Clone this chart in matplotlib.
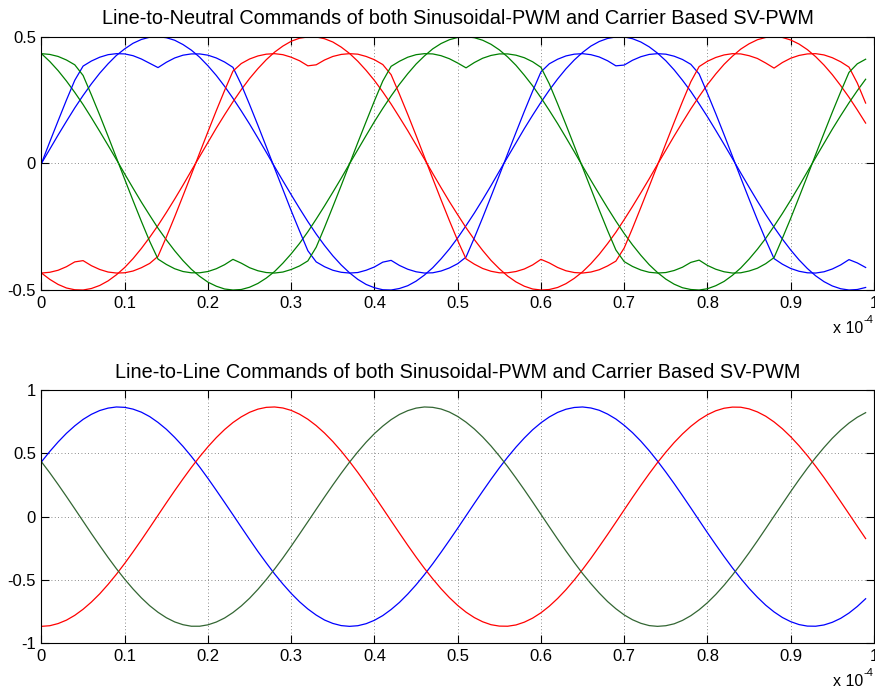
import matplotlib
matplotlib.use("Agg")
import matplotlib.pyplot as plt

plt.rcParams['font.family'] = ['Liberation Sans', 'DejaVu Sans']

# one sample per microsecond, 0..99 us
t_us = list(range(100))

# sinusoidal PWM line-to-neutral commands
va_spwm = [0.000, 0.056, 0.112, 0.166, 0.219, 0.268, 0.314, 0.356, 0.393, 0.426,
           0.452, 0.474, 0.489, 0.498, 0.500, 0.496, 0.486, 0.469, 0.447, 0.419,
           0.385, 0.347, 0.304, 0.257, 0.207, 0.155, 0.100, 0.044, -0.013, -0.069,
           -0.124, -0.178, -0.230, -0.279, -0.324, -0.365, -0.401, -0.432, -0.458, -0.478,
           -0.491, -0.499, -0.500, -0.494, -0.483, -0.465, -0.441, -0.412, -0.377, -0.338,
           -0.294, -0.246, -0.196, -0.143, -0.088, -0.031, 0.025, 0.081, 0.137, 0.190,
           0.241, 0.289, 0.333, 0.373, 0.408, 0.438, 0.463, 0.481, 0.493, 0.499,
           0.499, 0.492, 0.479, 0.460, 0.435, 0.405, 0.369, 0.328, 0.284, 0.235,
           0.184, 0.130, 0.075, 0.019, -0.038, -0.094, -0.149, -0.202, -0.252, -0.299,
           -0.342, -0.381, -0.415, -0.444, -0.467, -0.484, -0.495, -0.500, -0.498, -0.490]
vb_spwm = [-0.433, -0.458, -0.478, -0.492, -0.499, -0.500, -0.494, -0.482, -0.464, -0.440,
           -0.411, -0.376, -0.336, -0.292, -0.245, -0.194, -0.141, -0.086, -0.029, 0.027,
           0.083, 0.139, 0.192, 0.243, 0.291, 0.335, 0.374, 0.409, 0.439, 0.463,
           0.482, 0.494, 0.499, 0.499, 0.492, 0.479, 0.459, 0.434, 0.403, 0.367,
           0.327, 0.282, 0.234, 0.182, 0.129, 0.073, 0.017, -0.040, -0.096, -0.151,
           -0.203, -0.254, -0.301, -0.344, -0.383, -0.416, -0.445, -0.468, -0.485, -0.496,
           -0.500, -0.498, -0.490, -0.475, -0.454, -0.428, -0.396, -0.359, -0.317, -0.272,
           -0.222, -0.170, -0.116, -0.061, -0.004, 0.052, 0.108, 0.162, 0.215, 0.264,
           0.311, 0.353, 0.391, 0.423, 0.451, 0.472, 0.488, 0.497, 0.500, 0.497,
           0.487, 0.471, 0.449, 0.421, 0.388, 0.350, 0.307, 0.261, 0.211, 0.159]
vc_spwm = [0.433, 0.402, 0.366, 0.325, 0.280, 0.232, 0.180, 0.126, 0.071, 0.015,
           -0.042, -0.098, -0.153, -0.205, -0.256, -0.302, -0.345, -0.384, -0.418, -0.446,
           -0.469, -0.485, -0.496, -0.500, -0.498, -0.489, -0.474, -0.453, -0.427, -0.394,
           -0.357, -0.316, -0.270, -0.220, -0.168, -0.114, -0.059, -0.002, 0.054, 0.110,
           0.165, 0.217, 0.266, 0.312, 0.354, 0.392, 0.424, 0.452, 0.473, 0.488,
           0.497, 0.500, 0.496, 0.486, 0.470, 0.448, 0.420, 0.387, 0.348, 0.306,
           0.259, 0.209, 0.157, 0.102, 0.046, -0.011, -0.067, -0.122, -0.176, -0.228,
           -0.277, -0.322, -0.363, -0.400, -0.431, -0.457, -0.477, -0.491, -0.498, -0.500,
           -0.495, -0.483, -0.466, -0.442, -0.413, -0.378, -0.339, -0.296, -0.248, -0.198,
           -0.145, -0.090, -0.033, 0.023, 0.079, 0.135, 0.188, 0.239, 0.287, 0.332]

# carrier based SV-PWM line-to-neutral commands
va_svpwm = [0.000, 0.085, 0.168, 0.250, 0.328, 0.384, 0.404, 0.419, 0.429, 0.433,
            0.432, 0.425, 0.412, 0.395, 0.378, 0.399, 0.416, 0.427, 0.432, 0.432,
            0.427, 0.416, 0.400, 0.379, 0.311, 0.232, 0.150, 0.066, -0.019, -0.103,
            -0.187, -0.267, -0.345, -0.389, -0.408, -0.422, -0.430, -0.433, -0.431, -0.422,
            -0.409, -0.390, -0.383, -0.403, -0.418, -0.428, -0.433, -0.432, -0.425, -0.413,
            -0.396, -0.370, -0.294, -0.214, -0.131, -0.047, 0.038, 0.122, 0.205, 0.285,
            0.361, 0.393, 0.411, 0.424, 0.431, 0.433, 0.429, 0.420, 0.405, 0.385,
            0.388, 0.407, 0.421, 0.430, 0.433, 0.431, 0.423, 0.410, 0.391, 0.353,
            0.276, 0.196, 0.113, 0.028, -0.057, -0.141, -0.223, -0.302, -0.376, -0.398,
            -0.415, -0.426, -0.432, -0.433, -0.428, -0.417, -0.401, -0.380, -0.393, -0.411]
vb_svpwm = [-0.433, -0.430, -0.422, -0.408, -0.389, -0.384, -0.404, -0.419, -0.429, -0.433,
            -0.432, -0.425, -0.412, -0.395, -0.367, -0.291, -0.211, -0.128, -0.044, 0.041,
            0.125, 0.208, 0.288, 0.364, 0.394, 0.412, 0.424, 0.431, 0.433, 0.429,
            0.419, 0.405, 0.385, 0.389, 0.408, 0.422, 0.430, 0.433, 0.431, 0.422,
            0.409, 0.390, 0.350, 0.273, 0.193, 0.110, 0.025, -0.060, -0.144, -0.226,
            -0.305, -0.377, -0.398, -0.415, -0.426, -0.432, -0.432, -0.427, -0.417, -0.401,
            -0.379, -0.393, -0.411, -0.424, -0.431, -0.433, -0.429, -0.420, -0.405, -0.386,
            -0.334, -0.256, -0.174, -0.091, -0.007, 0.078, 0.162, 0.244, 0.322, 0.382,
            0.403, 0.418, 0.428, 0.433, 0.432, 0.425, 0.414, 0.396, 0.376, 0.398,
            0.415, 0.426, 0.432, 0.433, 0.428, 0.417, 0.401, 0.380, 0.317, 0.238]
vc_svpwm = [0.433, 0.430, 0.422, 0.408, 0.389, 0.347, 0.270, 0.190, 0.107, 0.022,
            -0.063, -0.147, -0.229, -0.308, -0.378, -0.399, -0.416, -0.427, -0.432, -0.432,
            -0.427, -0.416, -0.400, -0.379, -0.394, -0.412, -0.424, -0.431, -0.433, -0.429,
            -0.419, -0.405, -0.385, -0.331, -0.253, -0.171, -0.088, -0.003, 0.082, 0.165,
            0.247, 0.325, 0.383, 0.403, 0.419, 0.429, 0.433, 0.432, 0.425, 0.413,
            0.396, 0.377, 0.398, 0.415, 0.426, 0.432, 0.432, 0.427, 0.417, 0.401,
            0.379, 0.314, 0.235, 0.153, 0.069, -0.016, -0.100, -0.184, -0.265, -0.342,
            -0.388, -0.407, -0.421, -0.430, -0.433, -0.431, -0.423, -0.410, -0.391, -0.382,
            -0.403, -0.418, -0.428, -0.433, -0.432, -0.425, -0.414, -0.396, -0.372, -0.296,
            -0.217, -0.134, -0.050, 0.035, 0.119, 0.202, 0.282, 0.359, 0.393, 0.411]

# line-to-line commands
vab = [0.433, 0.515, 0.590, 0.658, 0.717, 0.768, 0.808, 0.838, 0.857, 0.866,
       0.863, 0.849, 0.825, 0.790, 0.744, 0.690, 0.626, 0.555, 0.476, 0.392,
       0.302, 0.208, 0.112, 0.015, -0.083, -0.180, -0.275, -0.365, -0.452, -0.532,
       -0.606, -0.672, -0.729, -0.777, -0.816, -0.843, -0.860, -0.866, -0.861, -0.845,
       -0.818, -0.781, -0.733, -0.677, -0.611, -0.538, -0.458, -0.372, -0.281, -0.187,
       -0.091, 0.007, 0.105, 0.201, 0.295, 0.385, 0.470, 0.549, 0.621, 0.686,
       0.741, 0.787, 0.823, 0.848, 0.862, 0.866, 0.858, 0.840, 0.810, 0.771,
       0.721, 0.663, 0.596, 0.521, 0.439, 0.352, 0.261, 0.166, 0.069, -0.029,
       -0.127, -0.222, -0.315, -0.404, -0.488, -0.566, -0.636, -0.699, -0.752, -0.796,
       -0.829, -0.852, -0.864, -0.865, -0.855, -0.834, -0.803, -0.761, -0.709, -0.648]
vbc = [-0.866, -0.861, -0.844, -0.817, -0.779, -0.731, -0.674, -0.609, -0.535, -0.455,
       -0.369, -0.278, -0.184, -0.087, 0.011, 0.109, 0.205, 0.298, 0.388, 0.473,
       0.552, 0.624, 0.688, 0.743, 0.788, 0.824, 0.849, 0.863, 0.866, 0.858,
       0.839, 0.809, 0.769, 0.719, 0.660, 0.593, 0.518, 0.436, 0.349, 0.257,
       0.162, 0.065, -0.033, -0.130, -0.226, -0.319, -0.408, -0.491, -0.569, -0.639,
       -0.701, -0.754, -0.797, -0.830, -0.853, -0.864, -0.865, -0.855, -0.833, -0.801,
       -0.759, -0.707, -0.646, -0.577, -0.500, -0.417, -0.329, -0.236, -0.141, -0.044,
       0.054, 0.152, 0.247, 0.339, 0.427, 0.509, 0.585, 0.653, 0.713, 0.764,
       0.805, 0.836, 0.856, 0.865, 0.864, 0.851, 0.827, 0.793, 0.748, 0.694,
       0.631, 0.560, 0.482, 0.398, 0.309, 0.215, 0.119, 0.022, -0.076, -0.173]
vca = [0.433, 0.346, 0.254, 0.159, 0.062, -0.036, -0.134, -0.229, -0.322, -0.411,
       -0.494, -0.571, -0.641, -0.703, -0.755, -0.798, -0.831, -0.853, -0.865, -0.865,
       -0.854, -0.832, -0.800, -0.757, -0.705, -0.644, -0.574, -0.497, -0.414, -0.326,
       -0.233, -0.137, -0.040, 0.058, 0.155, 0.250, 0.342, 0.430, 0.512, 0.588,
       0.656, 0.715, 0.766, 0.807, 0.837, 0.857, 0.866, 0.863, 0.850, 0.826,
       0.791, 0.746, 0.692, 0.629, 0.558, 0.479, 0.395, 0.305, 0.212, 0.116,
       0.018, -0.080, -0.177, -0.271, -0.362, -0.449, -0.529, -0.603, -0.670, -0.727,
       -0.776, -0.814, -0.842, -0.860, -0.866, -0.861, -0.846, -0.819, -0.782, -0.735,
       -0.679, -0.614, -0.541, -0.461, -0.375, -0.285, -0.191, -0.094, 0.004, 0.101,
       0.198, 0.292, 0.382, 0.467, 0.546, 0.619, 0.683, 0.739, 0.785, 0.821]

x_ticks = [0, 0.1, 0.2, 0.3, 0.4, 0.5, 0.6, 0.7, 0.8, 0.9, 1]
x_labels = ['0', '0.1', '0.2', '0.3', '0.4', '0.5', '0.6', '0.7', '0.8', '0.9', '1']

# time axis in units of 1e-4 s
x = [v / 100 for v in t_us]

BLUE = (0, 0, 1)
RED = (1, 0, 0)
GREEN = (0, 0.5, 0)
DKGREEN = (0.2, 0.4, 0.2)
LW = 0.9


def style(ax, yticks, ylabels, title):
    ax.set_xlim(0, 1)
    ax.set_xticks(x_ticks)
    ax.set_xticklabels(x_labels)
    ax.set_ylim(yticks[0], yticks[-1])
    ax.set_yticks(yticks)
    ax.set_yticklabels(ylabels)
    ax.tick_params(direction='in', top=True, right=True, length=6,
                   width=0.8, labelsize=12, pad=4)
    ax.grid(True, linestyle=(0, (1, 3)), color='0.4', linewidth=0.6)
    for sp in ax.spines.values():
        sp.set_linewidth(0.8)
    ax.set_title(title, fontsize=14.3, pad=9)
    # exponent label for the time axis
    ax.text(0.987, -0.152, 'x 10', transform=ax.transAxes, ha='right',
            va='center', fontsize=11.5)
    ax.text(0.988, -0.118, '-4', transform=ax.transAxes, ha='left',
            va='center', fontsize=8)


fig = plt.figure(figsize=(8.75, 6.91), dpi=100)
ax1 = fig.add_axes([0.0474, 0.5803, 0.9514, 0.3666])
ax2 = fig.add_axes([0.0474, 0.0690, 0.9514, 0.3666])

ax1.plot(x, va_spwm, color=BLUE, lw=LW)
ax1.plot(x, vb_spwm, color=RED, lw=LW)
ax1.plot(x, vc_spwm, color=GREEN, lw=LW)
ax1.plot(x, va_svpwm, color=BLUE, lw=LW)
ax1.plot(x, vb_svpwm, color=RED, lw=LW)
ax1.plot(x, vc_svpwm, color=GREEN, lw=LW)
style(ax1, [-0.5, 0, 0.5], ['-0.5', '0', '0.5'],
      'Line-to-Neutral Commands of both Sinusoidal-PWM and Carrier Based SV-PWM')

ax2.plot(x, vab, color=BLUE, lw=LW)
ax2.plot(x, vbc, color=RED, lw=LW)
ax2.plot(x, vca, color=DKGREEN, lw=LW)
style(ax2, [-1, -0.5, 0, 0.5, 1], ['-1', '-0.5', '0', '0.5', '1'],
      'Line-to-Line Commands of both Sinusoidal-PWM and Carrier Based SV-PWM')

fig.savefig('out.png', dpi=100)
